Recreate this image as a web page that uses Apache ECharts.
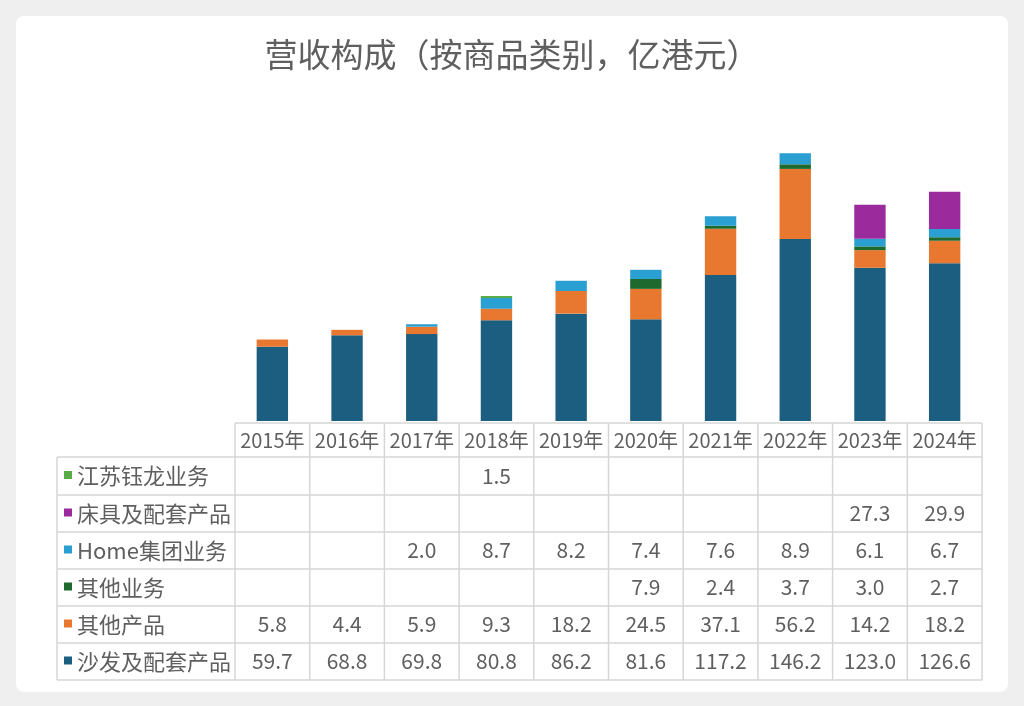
<!DOCTYPE html>
<html>
<head>
<meta charset="utf-8">
<script src="https://cdn.jsdelivr.net/npm/echarts@6/dist/echarts.min.js"></script>
<style>
  html, body { margin: 0; padding: 0; background: #efefef; }
  #card { position: absolute; left: 16px; top: 16px; width: 992px; height: 676px; background: #fff; border-radius: 8px; }
  #chart { position: absolute; left: 0; top: 0; width: 1024px; height: 706px; }
</style>
</head>
<body>
<div id="card"></div>
<div id="chart"></div>
<script>
const years = ["2015年", "2016年", "2017年", "2018年", "2019年", "2020年", "2021年", "2022年", "2023年", "2024年"];

// 从下到上的堆叠顺序
const sofa    = [59.7, 68.8, 69.8, 80.8, 86.2, 81.6, 117.2, 146.2, 123.0, 126.6];
const otherProd = [5.8, 4.4, 5.9, 9.3, 18.2, 24.5, 37.1, 56.2, 14.2, 18.2];
const otherBiz  = [null, null, null, null, null, 7.9, 2.4, 3.7, 3.0, 2.7];
const homeGroup = [null, null, 2.0, 8.7, 8.2, 7.4, 7.6, 8.9, 6.1, 6.7];
const bedding   = [null, null, null, null, null, null, null, null, 27.3, 29.9];
const jiangsu   = [null, null, null, 1.5, null, null, null, null, null, null];

const stackList = [
    { name: "沙发及配套产品", color: "#1b5e7f", data: sofa },
    { name: "其他产品", color: "#e8782f", data: otherProd },
    { name: "其他业务", color: "#1e6a2e", data: otherBiz },
    { name: "Home集团业务", color: "#2a9fd1", data: homeGroup },
    { name: "床具及配套产品", color: "#9b2b9d", data: bedding },
    { name: "江苏钰龙业务", color: "#5aac47", data: jiangsu }
];

const chart = echarts.init(document.getElementById('chart'));

const fontFamily = '"Noto Sans CJK SC", "Noto Sans", sans-serif';
const textColor = '#5f5f5f';
const lineColor = '#d6d6d6';

// table layout
const tableLeft = 57, colLeft = 235, colRight = 982;
const rowYs = [423, 457, 495, 532, 569, 606, 643, 680];
const colW = (colRight - colLeft) / years.length;

const buildTable = () => {
    const g = [];
    const line = (x1, y1, x2, y2) => g.push({
        type: 'line', silent: true,
        shape: { x1, y1, x2, y2 },
        style: { stroke: lineColor, lineWidth: 1.5 }
    });
    // horizontal lines
    line(colLeft, rowYs[0], colRight, rowYs[0]);
    for (let i = 1; i < rowYs.length; i++) line(tableLeft, rowYs[i], colRight, rowYs[i]);
    // vertical lines
    line(tableLeft, rowYs[1], tableLeft, rowYs[rowYs.length - 1]);
    for (let c = 0; c <= years.length; c++) {
        const x = colLeft + c * colW;
        line(x, rowYs[0], x, rowYs[rowYs.length - 1]);
    }
    // header
    years.forEach((y, c) => {
        g.push({
            type: 'text', silent: true,
            x: colLeft + (c + 0.5) * colW, y: (rowYs[0] + rowYs[1]) / 2,
            style: { text: y, fill: textColor, font: '20px ' + fontFamily, align: 'center', verticalAlign: 'middle' }
        });
    });
    // rows (top to bottom = reverse stack)
    const rows = stackList.slice().reverse();
    rows.forEach((s, r) => {
        const cy = (rowYs[r + 1] + rowYs[r + 2]) / 2;
        g.push({
            type: 'rect', silent: true,
            shape: { x: 64, y: cy - 5, width: 8, height: 8 },
            style: { fill: s.color }
        });
        g.push({
            type: 'text', silent: true,
            x: 77, y: cy,
            style: { text: s.name, fill: textColor, font: '22px ' + fontFamily, align: 'left', verticalAlign: 'middle' }
        });
        s.data.forEach((v, c) => {
            if (v == null) return;
            g.push({
                type: 'text', silent: true,
                x: colLeft + (c + 0.5) * colW, y: cy,
                style: { text: v.toFixed(1), fill: textColor, font: '21px ' + fontFamily, align: 'center', verticalAlign: 'middle' }
            });
        });
    });
    return g;
};

chart.setOption({
    backgroundColor: 'transparent',
    animation: false,
    title: {
        text: '营收构成（按商品类别，亿港元）',
        left: 'center',
        top: 33,
        textStyle: { color: textColor, fontSize: 33, fontWeight: 'normal', fontFamily: fontFamily }
    },
    grid: { left: colLeft, right: 1024 - colRight, top: 147, bottom: 706 - 421 },
    xAxis: {
        type: 'category',
        data: years,
        axisLine: { show: false },
        axisTick: { show: false },
        axisLabel: { show: false }
    },
    yAxis: {
        type: 'value',
        min: 0,
        max: 220,
        show: false,
        splitLine: { show: false }
    },
    series: stackList.map(s => ({
        name: s.name,
        type: 'bar',
        stack: 'total',
        barWidth: '42%',
        itemStyle: { color: s.color },
        data: s.data
    })),
    graphic: buildTable()
});
</script>
</body>
</html>
